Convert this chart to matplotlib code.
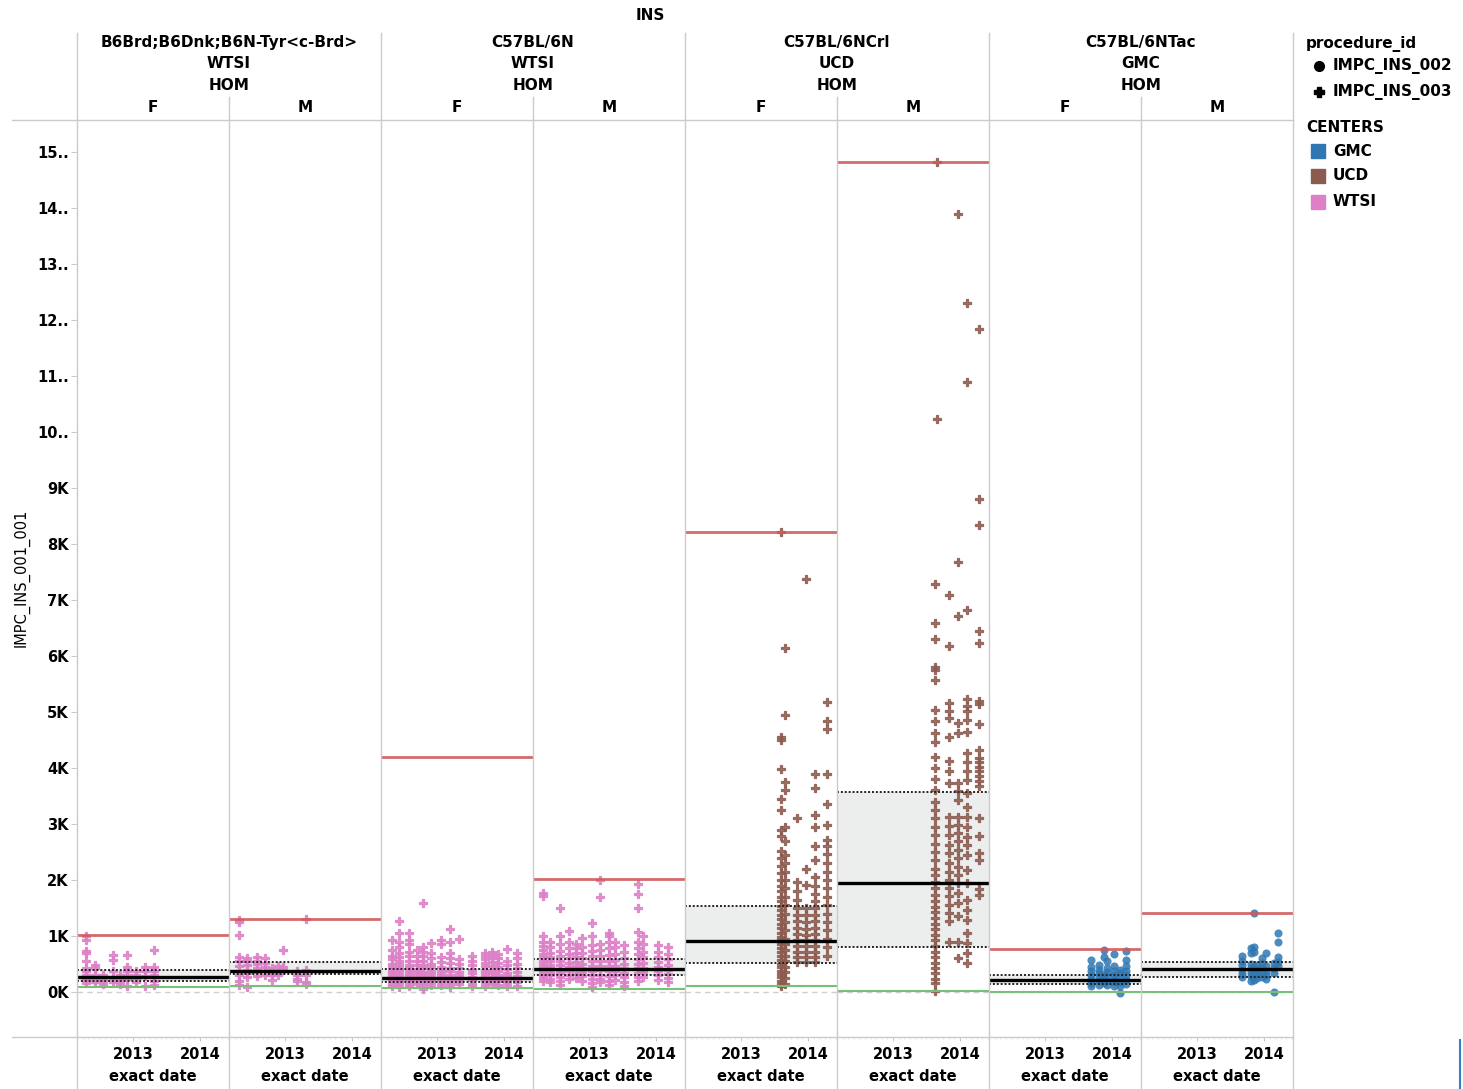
import matplotlib
matplotlib.use('Agg')
import matplotlib.pyplot as plt
import matplotlib.dates as mdates
from matplotlib.lines import Line2D
from matplotlib.patches import Rectangle
import pandas as pd

plt.rcParams['font.family'] = ['DejaVu Sans']

# facets
strains = ['B6Brd;B6Dnk;B6N-Tyr<c-Brd>', 'C57BL/6N', 'C57BL/6NCrl', 'C57BL/6NTac']
strain_centers = ['WTSI', 'WTSI', 'UCD', 'GMC']
zygosity = 'HOM'
sexes = ['F', 'M']
center_colors = {'GMC': '#2f77b3', 'UCD': '#8c5b4f', 'WTSI': '#dd80c7'}
panel_procedure = ['IMPC_INS_003'] * 6 + ['IMPC_INS_002'] * 2
procedure_markers = {'IMPC_INS_002': 'o', 'IMPC_INS_003': 'P'}

# reference lines per panel (max, quartiles, median, min)
ref_max = [1020, 1300, 4200, 2020, 8210, 14820, 770, 1410]
ref_q3 = [390, 530, 410, 590, 1540, 3570, 300, 540]
ref_median = [270, 375, 250, 410, 910, 1950, 210, 410]
ref_q1 = [200, 320, 180, 300, 520, 810, 140, 270]
ref_min = [90, 100, 70, 50, 110, 10, 0, 0]

# B6Brd F
p1_dates = ['2012-04-19', '2012-06-07', '2012-07-20', '2012-09-13', '2012-10-22',
            '2012-11-28', '2013-01-17', '2013-03-07', '2013-04-25']
p1_vals = [[1000, 930, 730, 700, 560, 430, 380, 300, 250, 200, 160],
           [490, 430, 300, 210, 170],
           [300, 240, 190, 150],
           [660, 570, 370, 230, 180],
           [300, 250, 200, 140],
           [660, 450, 380, 300, 240, 110],
           [380, 300, 250, 180],
           [450, 380, 280, 100],
           [750, 450, 380, 300, 200, 130]]

# B6Brd M
p2_dates = ['2012-04-24', '2012-06-07', '2012-07-31', '2012-09-13', '2012-10-22',
            '2012-11-23', '2012-12-20', '2013-03-07', '2013-04-25']
p2_vals = [[1280, 1250, 1010, 620, 560, 470, 380, 300, 200, 120],
           [600, 550, 480, 400, 330, 260, 90],
           [620, 560, 500, 430, 350, 280],
           [600, 520, 450, 380, 300],
           [430, 360, 300, 220],
           [460, 380, 300],
           [750, 450, 400],
           [380, 300, 230, 200],
           [1300, 400, 300, 180, 150]]

# C57BL/6N F
p3_dates = ['2012-04-30', '2012-06-07', '2012-07-31', '2012-09-13', '2012-10-16',
            '2012-11-28', '2013-01-22', '2013-03-13', '2013-05-01', '2013-07-10',
            '2013-09-19', '2013-10-27', '2013-11-29', '2014-01-17', '2014-03-13']
p3_vals = [[930, 750, 650, 580, 500, 440, 380, 330, 280, 230, 190, 150, 100],
           [1270, 1050, 900, 800, 700, 620, 560, 500, 450, 400, 350, 300, 260, 220, 180, 140, 90],
           [1050, 930, 850, 720, 650, 560, 480, 420, 370, 320, 280, 240, 200, 150, 110],
           [750, 650, 560, 480, 410, 350, 300, 250, 200, 150],
           [1580, 800, 720, 640, 560, 480, 420, 360, 310, 260, 210, 160, 110, 60],
           [880, 700, 600, 500, 440, 380, 320, 270, 220, 170, 120],
           [930, 860, 620, 530, 450, 380, 320, 270, 220, 170, 120],
           [1130, 900, 700, 600, 510, 430, 370, 310, 250, 200, 150, 90],
           [950, 580, 500, 420, 360, 300, 250, 200, 150],
           [650, 560, 480, 400, 330, 270, 210, 150, 100],
           [700, 640, 580, 520, 460, 400, 340, 280, 220, 160, 110],
           [720, 660, 600, 540, 470, 400, 330, 270, 210, 150],
           [680, 600, 520, 450, 380, 310, 250, 190, 130],
           [760, 560, 480, 410, 340, 280, 220, 160, 100],
           [700, 600, 500, 420, 350, 290, 230, 170, 110]]

# C57BL/6N M
p4_dates = ['2012-04-24', '2012-06-01', '2012-07-26', '2012-09-13', '2012-10-22',
            '2012-11-23', '2013-01-17', '2013-03-01', '2013-04-19', '2013-05-22',
            '2013-07-10', '2013-09-24', '2013-10-22', '2014-01-11', '2014-03-07']
p4_vals = [[1760, 1720, 1000, 900, 820, 750, 680, 620, 560, 500, 450, 400, 350, 300, 250, 200],
           [900, 800, 700, 620, 550, 480, 420, 360, 300, 240, 180],
           [1500, 1000, 850, 740, 650, 560, 480, 400, 330, 260, 190, 120],
           [1080, 900, 780, 680, 600, 520, 440, 370, 300, 230],
           [850, 780, 700, 620, 540, 460, 390, 320, 250],
           [960, 800, 700, 600, 500, 420, 350, 280, 200],
           [1240, 1000, 840, 740, 640, 550, 460, 380, 300, 230, 160, 80],
           [2000, 1700, 850, 750, 650, 560, 470, 390, 310, 240, 170],
           [1050, 1000, 900, 780, 660, 560, 460, 370, 290, 200, 120],
           [900, 800, 680, 570, 470, 380, 300, 220],
           [830, 720, 600, 500, 420, 340, 260, 180, 100],
           [1930, 1750, 1500, 1070, 900, 780, 680, 580, 500, 420, 340, 270, 200],
           [1000, 850, 720, 620, 520, 430, 350, 270],
           [830, 720, 620, 530, 450, 370, 300, 220],
           [800, 680, 580, 480, 400, 320, 250, 170]]

# C57BL/6NCrl F
p5_dates = ['2013-08-07', '2013-08-28', '2013-11-01', '2013-12-20', '2014-02-08', '2014-04-14']
p5_vals = [[8210, 4560, 4500, 3990, 3450, 3250, 2900, 2780, 2520, 2400, 2250, 2120, 2000,
            1900, 1800, 1700, 1620, 1540, 1460, 1380, 1300, 1220, 1140, 1060, 990, 920,
            850, 780, 710, 640, 570, 500, 440, 380, 320, 260, 200, 150, 110],
           [6150, 4950, 3750, 3600, 2950, 2700, 2450, 2300, 2150, 2000, 1850, 1700, 1550,
            1400, 1250, 1100, 950, 850, 750, 650, 550, 450, 350, 250, 150],
           [3100, 1970, 1800, 1650, 1500, 1380, 1260, 1150, 1040, 930, 820, 720, 620, 540],
           [7370, 2190, 1910, 1500, 1380, 1250, 1130, 1020, 920, 820, 720, 620, 540],
           [3900, 3650, 3160, 2950, 2600, 2360, 2050, 1900, 1750, 1620, 1500, 1380, 1260,
            1140, 1030, 920, 820, 720, 620, 530],
           [5170, 4830, 4690, 3890, 3360, 2980, 2710, 2600, 2470, 2300, 2140, 2000, 1860,
            1700, 1550, 1400, 1250, 1100, 950, 800, 650]]

# C57BL/6NCrl M
p6_dates = ['2013-08-17', '2013-08-28', '2013-11-01', '2013-12-20', '2014-02-08', '2014-04-14']
p6_vals = [[7280, 6580, 6310, 5800, 5750, 5570, 5040, 4830, 4630, 4470, 4200, 4000, 3800,
            3600, 3400, 3250, 3100, 2950, 2800, 2650, 2500, 2350, 2200, 2080, 1960, 1850,
            1740, 1630, 1520, 1420, 1320, 1220, 1120, 1020, 920, 820, 720, 620, 520, 420,
            330, 240, 160, 10],
           [14820, 10230],
           [7090, 6170, 5160, 5010, 4890, 4560, 4120, 3950, 3730, 3130, 2960, 2810, 2630,
            2480, 2300, 2150, 2000, 1860, 1710, 1560, 1410, 1260, 900],
           [13890, 7670, 6710, 4810, 4630, 3730, 3580, 3430, 3130, 2990, 2840, 2690, 2540,
            2390, 2240, 2090, 1940, 1770, 1590, 1350, 900, 600],
           [12300, 10900, 6820, 5240, 5100, 5010, 4860, 4650, 4260, 4110, 3940, 3790, 3550,
            3310, 3130, 2950, 2770, 2630, 2450, 2180, 1940, 1640, 1470, 1290, 1050, 870,
            690, 510],
           [11840, 8800, 8330, 6450, 6240, 5190, 5150, 4780, 4320, 4170, 4110, 4020, 3940,
            3850, 3760, 3670, 3100, 2780, 2480, 2360, 1830, 1740]]

# C57BL/6NTac F
p7_dates = ['2013-09-08', '2013-10-22', '2013-11-18', '2013-12-04', '2014-01-11',
            '2014-02-14', '2014-03-18']
p7_vals = [[570, 450, 370, 300, 230, 160, 100],
           [480, 400, 330, 260, 190, 120],
           [750, 620, 300, 230, 160],
           [560, 430, 350, 280, 200, 130],
           [680, 470, 380, 310, 240, 170, 110],
           [400, 330, 250, 180, 110, -20],
           [730, 570, 460, 380, 300, 220, 150]]

# C57BL/6NTac M
p8_dates = ['2013-09-03', '2013-10-22', '2013-11-07', '2013-11-23', '2013-12-20',
            '2014-01-11', '2014-02-25', '2014-03-18']
p8_vals = [[650, 560, 480, 400, 320, 260],
           [780, 700, 500, 420, 350, 280, 200],
           [1410, 800, 720, 450, 380, 300, 220],
           [480, 400, 320, 250],
           [600, 520, 430, 350, 270],
           [700, 460, 380, 300, 230],
           [520, 420, 340, 0],
           [1050, 900, 620, 540, 460]]

panel_dates = [p1_dates, p2_dates, p3_dates, p4_dates, p5_dates, p6_dates, p7_dates, p8_dates]
panel_vals = [p1_vals, p2_vals, p3_vals, p4_vals, p5_vals, p6_vals, p7_vals, p8_vals]

W, H = 1463, 1089
fig = plt.figure(figsize=(W / 100, H / 100), dpi=100)


def fx(x):
    return x / W


def fy(y):
    return 1 - y / H


grid_col = '#cbcbcb'
top, bottom = 120, 1037
pw = 152
x_start = pd.Timestamp('2012-03-01')
x_end = pd.Timestamp('2014-06-08')

axes = []
for i in range(8):
    left = 77 + pw * i
    ax = fig.add_axes([fx(left), fy(bottom), pw / W, (bottom - top) / H])
    axes.append(ax)
    center = strain_centers[i // 2]
    color = center_colors[center]
    marker = procedure_markers[panel_procedure[i]]

    xs, ys = [], []
    for d, col in zip(panel_dates[i], panel_vals[i]):
        for v in col:
            xs.append(pd.Timestamp(d))
            ys.append(v)

    ax.axhspan(ref_q1[i], ref_q3[i], color='#eceeee', zorder=0, lw=0)
    ax.axhline(0, color='#cfcfcf', lw=1, ls=(0, (4, 3)), zorder=1)
    if marker == 'P':
        ax.scatter(xs, ys, s=34, marker=marker, color=color, alpha=0.85,
                   edgecolors=color, linewidths=0.9, zorder=2)
    else:
        ax.scatter(xs, ys, s=34, marker=marker, color=color, alpha=0.85,
                   linewidths=0, zorder=2)
    ax.axhline(ref_q3[i], color='#222222', lw=1.4, ls=(0, (1, 1)), zorder=3)
    ax.axhline(ref_q1[i], color='#222222', lw=1.4, ls=(0, (1, 1)), zorder=3)
    ax.axhline(ref_median[i], color='black', lw=2.4, zorder=4)
    ax.axhline(ref_max[i], color='#cf5a5c', lw=2, alpha=0.9, zorder=4)
    ax.axhline(ref_min[i], color='#78bf78', lw=1.5, zorder=4)

    ax.set_xlim(x_start, x_end)
    ax.set_ylim(-804, 15571)
    for s in ax.spines.values():
        s.set_visible(False)
    ax.patch.set_alpha(0)

    ax.xaxis.set_major_locator(mdates.YearLocator())
    ax.xaxis.set_major_formatter(mdates.DateFormatter('%Y'))
    ax.xaxis.set_minor_locator(mdates.MonthLocator())
    ax.tick_params(axis='x', which='major', length=3, color=grid_col, pad=4,
                   labelsize=10.5)
    ax.tick_params(axis='x', which='minor', length=1.5, color='#dddddd')
    for lab in ax.get_xticklabels():
        lab.set_fontweight('bold')
    ax.set_xlabel('exact date', fontsize=10.5, fontweight='bold', labelpad=5)

    ax.set_yticks(range(0, 16000, 1000))
    if i == 0:
        ax.set_yticklabels([f'{k}K' if k < 10 else f'{k}..' for k in range(16)],
                           fontsize=10.5, fontweight='bold')
        ax.tick_params(axis='y', length=4, color=grid_col, pad=2)
    else:
        ax.tick_params(axis='y', left=False, labelleft=False)

# frame and separators
fig.add_artist(Line2D([fx(12), fx(1293)], [fy(top), fy(top)], color=grid_col, lw=1))
fig.add_artist(Line2D([fx(12), fx(1293)], [fy(bottom), fy(bottom)], color=grid_col, lw=1))
for k in range(5):
    x = 77 + 2 * pw * k
    fig.add_artist(Line2D([fx(x), fx(x)], [fy(33), fy(H)], color=grid_col, lw=1))
for k in range(4):
    x = 77 + pw + 2 * pw * k
    fig.add_artist(Line2D([fx(x), fx(x)], [fy(97), fy(H)], color=grid_col, lw=1))
fig.add_artist(Line2D([fx(1460), fx(1460)], [fy(1040), fy(H)], color='#3b7fcc', lw=1.5))

# headers
hdr = dict(ha='center', va='center', fontsize=11, fontweight='bold')
fig.text(fx(650), fy(16), 'INS', **hdr)
for k in range(4):
    cx = 77 + pw + 2 * pw * k
    fig.text(fx(cx), fy(43), strains[k], **hdr)
    fig.text(fx(cx), fy(64), strain_centers[k], **hdr)
    fig.text(fx(cx), fy(86), zygosity, **hdr)
    for j, sx in enumerate(sexes):
        fig.text(fx(77 + pw * (2 * k + j) + pw / 2), fy(107), sx, **hdr)

fig.text(fx(22), fy(578), 'IMPC_INS_001_001', rotation=90, ha='center', va='center',
         fontsize=10.5)

# legend
leg = dict(ha='left', va='center', fontsize=11, fontweight='bold')
fig.text(fx(1306), fy(44), 'procedure_id', **leg)
for k, (proc, y) in enumerate(zip(['IMPC_INS_002', 'IMPC_INS_003'], [66, 92])):
    fig.add_artist(Line2D([fx(1319)], [fy(y)], marker=procedure_markers[proc],
                          color='black', markersize=7, lw=0))
    fig.text(fx(1333), fy(y), proc, **leg)
fig.text(fx(1306), fy(128), 'CENTERS', **leg)
for name, y in zip(['GMC', 'UCD', 'WTSI'], [151, 176, 202]):
    fig.add_artist(Rectangle((fx(1311), fy(y + 7)), 14 / W, 14 / H,
                             color=center_colors[name], transform=fig.transFigure))
    fig.text(fx(1333), fy(y), name, **leg)

fig.savefig('out.png', dpi=100)
